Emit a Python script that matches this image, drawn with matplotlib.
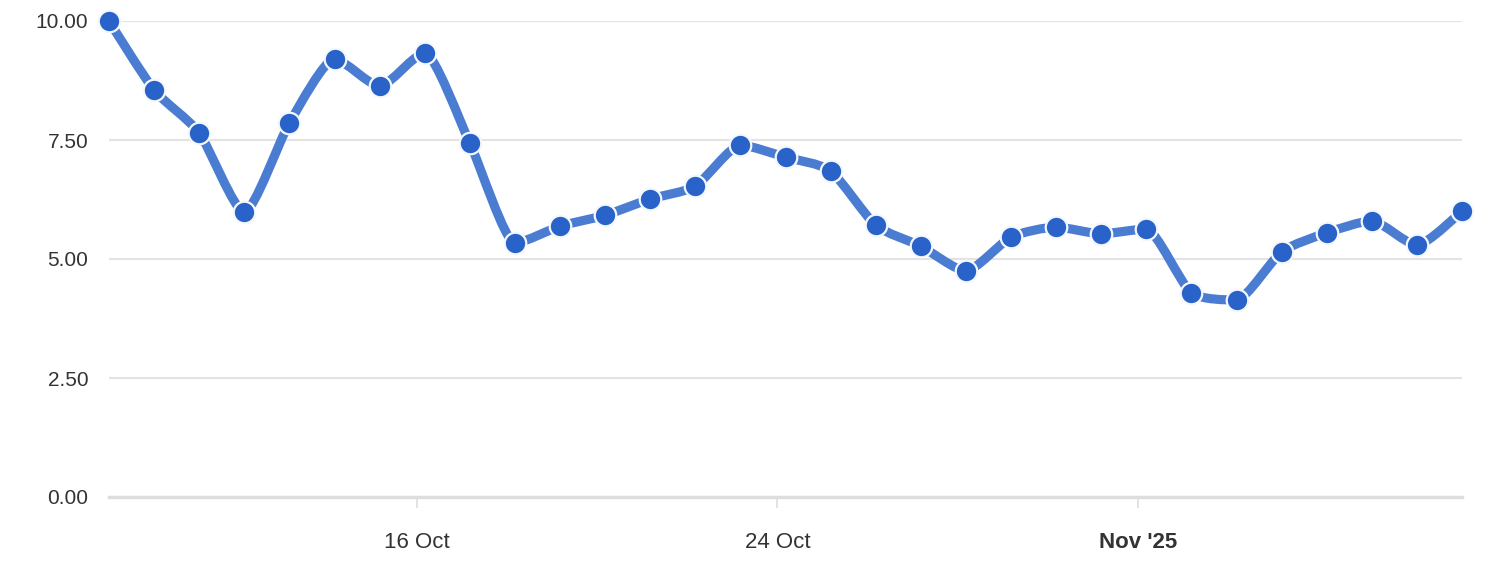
import datetime
import matplotlib
matplotlib.use("Agg")
import matplotlib.pyplot as plt
import matplotlib.dates as mdates
from matplotlib.path import Path
from matplotlib.patches import PathPatch

# daily values, 9 Oct .. 8 Nov 2025
start_day = datetime.datetime(2025, 10, 9, 4, 20)
values = [10.0, 8.55, 7.65, 5.99, 7.86, 9.20, 8.63, 9.33, 7.44, 5.34,
          5.69, 5.92, 6.26, 6.53, 7.39, 7.14, 6.85, 5.71, 5.27, 4.75,
          5.46, 5.67, 5.53, 5.63, 4.29, 4.14, 5.15, 5.55, 5.80, 5.29, 6.01]
dates = [start_day + datetime.timedelta(days=i) for i in range(len(values))]

tick_dates = [datetime.datetime(2025, 10, 16), datetime.datetime(2025, 10, 24),
              datetime.datetime(2025, 11, 1)]
tick_labels = ["16 Oct", "24 Oct", "Nov '25"]
y_ticks = [0, 2.5, 5, 7.5, 10]

LINE_COLOR = "#4a7cd2"
MARKER_COLOR = "#2962c8"
TEXT_COLOR = "#333333"


def spline_path(xs, ys, smoothing=3.5):
    # spline with control points pulled close to each point
    denom = smoothing + 1
    n = len(xs)
    verts = [(xs[0], ys[0])]
    codes = [Path.MOVETO]
    right_prev = (xs[0], ys[0])
    for i in range(1, n):
        x, y = xs[i], ys[i]
        lx, ly = xs[i - 1], ys[i - 1]
        if i < n - 1:
            nx, ny = xs[i + 1], ys[i + 1]
            lcx = (smoothing * x + lx) / denom
            lcy = (smoothing * y + ly) / denom
            rcx = (smoothing * x + nx) / denom
            rcy = (smoothing * y + ny) / denom
            if rcx != lcx:
                corr = (rcy - lcy) * (rcx - x) / (rcx - lcx) + y - rcy
                lcy += corr
                rcy += corr
                if lcy > ly and lcy > y:
                    lcy = max(ly, y)
                    rcy = 2 * y - lcy
                elif lcy < ly and lcy < y:
                    lcy = min(ly, y)
                    rcy = 2 * y - lcy
                if rcy > ny and rcy > y:
                    rcy = max(ny, y)
                    lcy = 2 * y - rcy
                elif rcy < ny and rcy < y:
                    rcy = min(ny, y)
                    lcy = 2 * y - rcy
            left = (lcx, lcy)
            right = (rcx, rcy)
        else:
            left = (x, y)
            right = (x, y)
        verts += [right_prev, left, (x, y)]
        codes += [Path.CURVE4, Path.CURVE4, Path.CURVE4]
        right_prev = right
    return Path(verts, codes)


plt.rcParams["font.family"] = ["Liberation Sans", "DejaVu Sans"]

fig = plt.figure(figsize=(15, 5.74), dpi=100)
ax = fig.add_axes([109 / 1500, 77 / 574, (1462 - 109) / 1500, (497 - 21) / 574])

xnum = mdates.date2num(dates)
path = spline_path(list(xnum), values)
ax.add_patch(PathPatch(path, fill=False, edgecolor=LINE_COLOR, lw=6.6,
                       capstyle="round", joinstyle="round", zorder=3))
ax.plot(dates, values, linestyle="none", marker="o", markersize=15.5,
        markerfacecolor=MARKER_COLOR, markeredgecolor="#f4f7fc",
        markeredgewidth=1.6, zorder=4, clip_on=False)

ax.set_xlim(xnum[0], xnum[-1])
ax.set_ylim(0, 10)

ax.set_yticks(y_ticks)
ax.set_yticklabels(["%.2f" % v for v in y_ticks])
ax.set_xticks(mdates.date2num(tick_dates))
ax.set_xticklabels(tick_labels)
ax.get_xticklabels()[2].set_fontweight("bold")

ax.grid(axis="y", color="#e3e3e3", lw=1.5, zorder=0)
for s in ["top", "right", "left"]:
    ax.spines[s].set_visible(False)
ax.spines["bottom"].set_color("#dddddd")
ax.spines["bottom"].set_linewidth(2.4)

ax.tick_params(axis="y", length=0, pad=15, labelsize=15, labelcolor=TEXT_COLOR)
ax.tick_params(axis="x", length=8, width=1.2, color="#dddddd", pad=17,
               labelsize=16, labelcolor=TEXT_COLOR)

fig.savefig("out.png", dpi=100)
plt.close()
